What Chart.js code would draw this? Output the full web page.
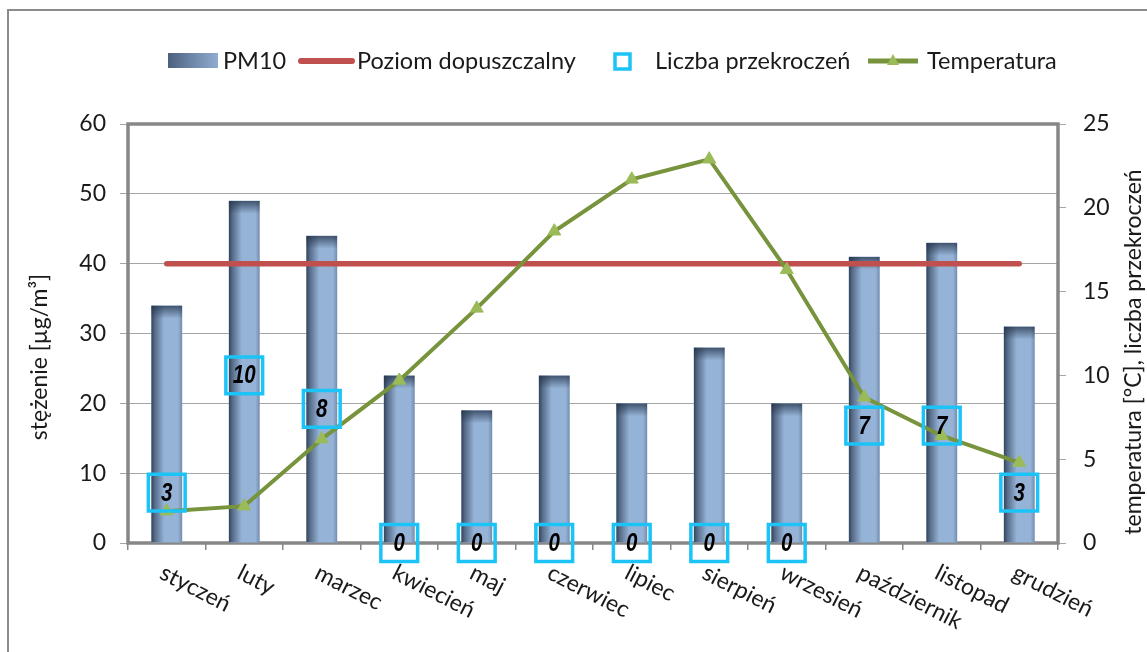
<!DOCTYPE html>
<html>
<head>
<meta charset="utf-8">
<script src="https://cdn.jsdelivr.net/npm/chart.js@4.4.1/dist/chart.umd.min.js"></script>
<style>
  html, body { margin: 0; padding: 0; background: #fff; }
  #wrap { width: 1147px; height: 652px; position: relative; }
  canvas { display: block; }
</style>
</head>
<body>
<div id="wrap"><canvas id="chart" width="1147" height="652"></canvas></div>
<script>
// Monthly PM10 concentration, limit level, exceedance counts and temperature
const months = ['styczeń', 'luty', 'marzec', 'kwiecień', 'maj', 'czerwiec',
                'lipiec', 'sierpień', 'wrzesień', 'październik', 'listopad', 'grudzień'];
const pm10 = [34, 49, 44, 24, 19, 24, 20, 28, 20, 41, 43, 31];
const limitLevel = [40, 40, 40, 40, 40, 40, 40, 40, 40, 40, 40, 40];
const exceedances = [3, 10, 8, 0, 0, 0, 0, 0, 0, 7, 7, 3];
const temperature = [1.9, 2.2, 6.2, 9.7, 14.0, 18.6, 21.7, 22.9, 16.3, 8.7, 6.4, 4.8];
const leftTicks = [0, 10, 20, 30, 40, 50, 60];
const rightTicks = [0, 5, 10, 15, 20, 25];

const FAM = 'Lato, "Open Sans", "DejaVu Sans", sans-serif';
const NUM_FAM = '"Liberation Sans", Arial, sans-serif';
const TEXT = '#1a1a1a';
const FRAME = '#878787';

const decor = {
  id: 'decor',
  beforeDraw(chart) {
    const ctx = chart.ctx;
    ctx.save();
    ctx.fillStyle = '#fff';
    ctx.fillRect(0, 0, chart.width, chart.height);
    // outer frame (left and top edges)
    ctx.strokeStyle = '#8c8c8c';
    ctx.lineWidth = 2;
    ctx.beginPath();
    ctx.moveTo(8, chart.height);
    ctx.lineTo(8, 10);
    ctx.lineTo(chart.width, 10);
    ctx.stroke();
    ctx.restore();
  },
  beforeDatasetsDraw(chart) {
    const ctx = chart.ctx, a = chart.chartArea;
    ctx.save();
    ctx.strokeStyle = FRAME;
    ctx.lineWidth = 3.5;
    ctx.strokeRect(a.left, a.top, a.right - a.left, a.bottom - a.top);
    ctx.restore();
  },
  afterDatasetDraw(chart, args) {
    const ctx = chart.ctx;
    if (args.index === 0) {
      // shading on the bar edges
      const shade = 'rgba(36,50,72,';
      args.meta.data.forEach(el => {
        const p = el.getProps(['x', 'y', 'width', 'base'], true);
        const l = p.x - p.width / 2, r = p.x + p.width / 2, h = p.base - p.y;
        ctx.save();
        ctx.beginPath();
        ctx.rect(l, p.y, p.width, h);
        ctx.clip();
        const g = ctx.createLinearGradient(l, 0, r, 0);
        g.addColorStop(0, shade + '0.88)');
        g.addColorStop(0.12, shade + '0.55)');
        g.addColorStop(0.42, shade + '0)');
        g.addColorStop(0.86, shade + '0)');
        g.addColorStop(1, shade + '0.3)');
        ctx.fillStyle = g;
        ctx.fillRect(l, p.y, p.width, h);
        const gv = ctx.createLinearGradient(0, p.y, 0, p.y + 13);
        gv.addColorStop(0, shade + '0.75)');
        gv.addColorStop(1, shade + '0)');
        ctx.fillStyle = gv;
        ctx.fillRect(l, p.y, p.width, 13);
        ctx.restore();
      });
    }
    if (args.index === 3) {
      // value inside each exceedance box, in a narrow bold italic face
      ctx.save();
      ctx.font = 'italic bold 25px ' + NUM_FAM;
      ctx.fillStyle = '#000';
      ctx.textAlign = 'center';
      ctx.textBaseline = 'middle';
      args.meta.data.forEach((el, i) => {
        ctx.save();
        ctx.translate(el.x, el.y + 1);
        ctx.scale(0.82, 1);
        ctx.fillText(String(exceedances[i]), 0, 0);
        ctx.restore();
      });
      ctx.restore();
    }
  },
  afterDraw(chart) {
    const ctx = chart.ctx;
    const xs = chart.scales.x;
    ctx.save();
    ctx.fillStyle = TEXT;

    // rotated category labels
    ctx.font = '23px ' + FAM;
    ctx.textAlign = 'left';
    ctx.textBaseline = 'top';
    months.forEach((m, i) => {
      const x = xs.getPixelForValue(i);
      ctx.save();
      ctx.translate(x, 561);
      ctx.rotate(27 * Math.PI / 180);
      ctx.fillText(m, 0, 0);
      ctx.restore();
    });

    // axis titles
    ctx.textAlign = 'center';
    ctx.textBaseline = 'middle';
    ctx.font = '23px ' + FAM;
    ctx.save();
    ctx.translate(40, 357);
    ctx.rotate(-Math.PI / 2);
    ctx.fillText('stężenie [µg/m³]', 0, 0);
    ctx.restore();
    ctx.save();
    ctx.translate(1134, 352);
    ctx.rotate(-Math.PI / 2);
    ctx.fillText('temperatura [°C], liczba przekroczeń', 0, 0);
    ctx.restore();

    // legend
    const ds = chart.data.datasets;
    const ly = 61;
    ctx.font = '23.5px ' + FAM;
    ctx.textAlign = 'left';
    ctx.textBaseline = 'middle';

    const sg = ctx.createLinearGradient(168, 0, 218, 0);
    sg.addColorStop(0, '#4d607e');
    sg.addColorStop(0.5, '#6f88aa');
    sg.addColorStop(1, '#8fabcf');
    ctx.fillStyle = sg;
    ctx.fillRect(168, 53, 50, 15);
    ctx.fillStyle = TEXT;
    ctx.fillText(ds[0].label, 223, ly);

    ctx.strokeStyle = ds[1].borderColor;
    ctx.lineWidth = 6;
    ctx.lineCap = 'round';
    ctx.beginPath();
    ctx.moveTo(301, ly);
    ctx.lineTo(352, ly);
    ctx.stroke();
    ctx.fillText(ds[1].label, 357, ly);

    ctx.strokeStyle = ds[3].pointBorderColor;
    ctx.lineWidth = 3.5;
    ctx.lineCap = 'butt';
    ctx.strokeRect(615, 54, 15, 15);
    ctx.fillText(ds[3].label, 655, ly);

    ctx.strokeStyle = ds[2].borderColor;
    ctx.lineWidth = 5;
    ctx.beginPath();
    ctx.moveTo(868, ly);
    ctx.lineTo(918, ly);
    ctx.stroke();
    ctx.fillStyle = ds[2].pointBackgroundColor;
    ctx.beginPath();
    ctx.moveTo(893, ly - 7);
    ctx.lineTo(899, ly + 4);
    ctx.lineTo(887, ly + 4);
    ctx.closePath();
    ctx.fill();
    ctx.fillStyle = TEXT;
    ctx.fillText(ds[2].label, 927, ly);

    ctx.restore();
  }
};

const tickFont = { family: FAM, size: 23 };

new Chart(document.getElementById('chart'), {
  data: {
    labels: months,
    datasets: [
      {
        type: 'bar', label: 'PM10', data: pm10, yAxisID: 'y',
        backgroundColor: '#95b3d7', borderWidth: 0,
        barPercentage: 0.4, categoryPercentage: 1, order: 4
      },
      {
        type: 'line', label: 'Poziom dopuszczalny', data: limitLevel, yAxisID: 'y',
        borderColor: '#c0504d', borderWidth: 5.5, borderCapStyle: 'round',
        pointRadius: 0, order: 3
      },
      {
        type: 'line', label: 'Temperatura', data: temperature, yAxisID: 'y1',
        borderColor: '#77933c', borderWidth: 4, tension: 0,
        pointStyle: 'triangle', pointRadius: 7.5,
        pointBackgroundColor: '#9bbb59', pointBorderColor: '#9bbb59', pointBorderWidth: 1,
        order: 2
      },
      {
        type: 'line', label: 'Liczba przekroczeń', data: exceedances, yAxisID: 'y1',
        showLine: false, pointStyle: 'rect', pointRadius: 26, clip: false,
        pointBorderWidth: 3.5, pointBorderColor: '#1cc3f7',
        pointBackgroundColor: 'rgba(0,0,0,0)', order: 1
      }
    ]
  },
  options: {
    responsive: false,
    animation: false,
    layout: { padding: { top: 124, left: 0, right: 0, bottom: 0 } },
    plugins: { legend: { display: false }, tooltip: { enabled: false } },
    scales: {
      x: {
        offset: true,
        grid: { display: true, offset: true, drawOnChartArea: false, drawTicks: true,
                tickLength: 7, color: FRAME, lineWidth: 1.5 },
        border: { display: false },
        ticks: { display: false },
        afterFit(s) { s.height = 109; }
      },
      y: {
        position: 'left', min: 0, max: 60,
        afterBuildTicks(s) { s.ticks = leftTicks.map(v => ({ value: v })); },
        ticks: { font: tickFont, color: TEXT, padding: 14 },
        grid: { color: '#a6a6a6', lineWidth: 1, tickLength: 8 },
        border: { display: false },
        afterFit(s) { s.width = 128; }
      },
      y1: {
        position: 'right', min: 0, max: 25,
        afterBuildTicks(s) { s.ticks = rightTicks.map(v => ({ value: v })); },
        ticks: { font: tickFont, color: TEXT, padding: 17 },
        grid: { drawOnChartArea: false, color: '#a6a6a6', lineWidth: 1, tickLength: 8 },
        border: { display: false },
        afterFit(s) { s.width = 89; }
      }
    }
  },
  plugins: [decor]
});
</script>
</body>
</html>
